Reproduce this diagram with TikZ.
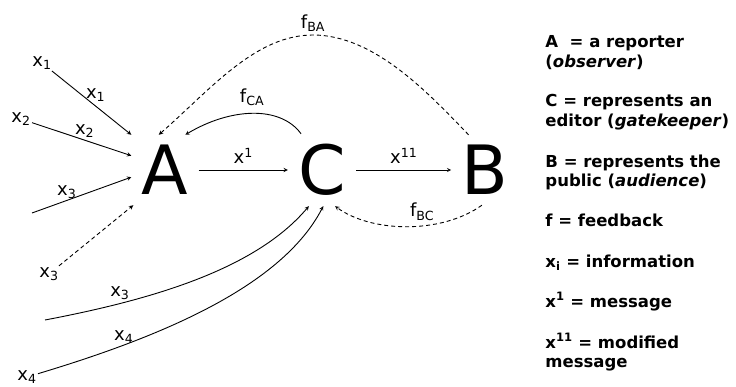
\documentclass[tikz,border=0pt]{standalone}
\usepackage{fontspec}
\setmainfont{DejaVu Sans}
\begin{document}
\begin{tikzpicture}[x=1pt, y=-1pt, >=stealth, line width=0.9pt,
    party/.style={font=\fontsize{68}{68}\selectfont, inner sep=10pt},
    lab/.style={font=\fontsize{18}{18}\selectfont, inner sep=1pt},
    fb/.style={dash pattern=on 4pt off 3pt},
    legend/.style={font=\fontsize{16.5}{20}\selectfont\bfseries, anchor=base west, inner sep=0pt}]
    \useasboundingbox (0,0) rectangle (736,387);

    % Reporter, editor, public
    \node[party] (A) at (165,170) {A};
    \node[party] (C) at (322,170) {C};
    \node[party] (B) at (485,170) {B};

    % Message chain
    \draw[->] (A) -- node[lab, above=5pt] {x\textsuperscript{1}} (C);
    \draw[->] (C) -- node[lab, above=5pt] {x\textsuperscript{11}} (B);

    % Feedback
    \draw[->, fb] (B.115) .. controls (430,95) and (375,35) .. (313,35) node[lab, above=2pt] {f\textsubscript{BA}}
        .. controls (255,35) and (210,90) .. (A.100);
    \draw[->] (C.120) .. controls (280,105) and (230,108) .. node[lab, pos=0.5, above=6pt] {f\textsubscript{CA}} (A.60);
    \draw[->, fb] (B.265) .. controls (440,235) and (370,232) .. node[lab, pos=0.4, above=4pt] {f\textsubscript{BC}} (C.290);

    % Information
    \node[lab] (x1s) at (42,63) {x\textsubscript{1}};
    \node[lab] (x2s) at (21,119) {x\textsubscript{2}};
    \node[lab] (x3d) at (49,274) {x\textsubscript{3}};
    \node[lab] (x4s) at (27,377) {x\textsubscript{4}};
    \coordinate (x3s) at (32,213);
    \coordinate (x3c) at (45,320);

    \draw[->] (x1s) -- node[lab, above, xshift=4pt] {x\textsubscript{1}} (A.north west);
    \draw[->] (x2s) -- node[lab, above, xshift=3pt] {x\textsubscript{2}} (A.157);
    \draw[->] (x3s) -- node[lab, pos=0.35, above] {x\textsubscript{3}} (A.192);
    \draw[->, fb] (x3d) -- (A.228);
    \draw[->] (x3c) .. controls (150,300) and (255,270) .. node[lab, pos=0.24, above=2pt] {x\textsubscript{3}} (C.250);
    \draw[->] (x4s) .. controls (150,340) and (280,290) .. node[lab, pos=0.25, above] {x\textsubscript{4}} (C.272);

    % Legend
    \foreach \y/\txt [count=\i] in {48/{A\ \ = a reporter}, 68/{(\textit{observer})},
        107/{C = represents an}, 127/{editor (\textit{gatekeeper})},
        168/{B = represents the}, 187/{public (\textit{audience})},
        227/{f = feedback}, 268/{x\textsubscript{i} = information},
        307/{x\textsuperscript{1} = message}, 348/{x\textsuperscript{11} = modified},
        367/{message}}
      \node[legend] (leg\i) at (545,\y) {\txt};
  \end{tikzpicture}
\end{document}
